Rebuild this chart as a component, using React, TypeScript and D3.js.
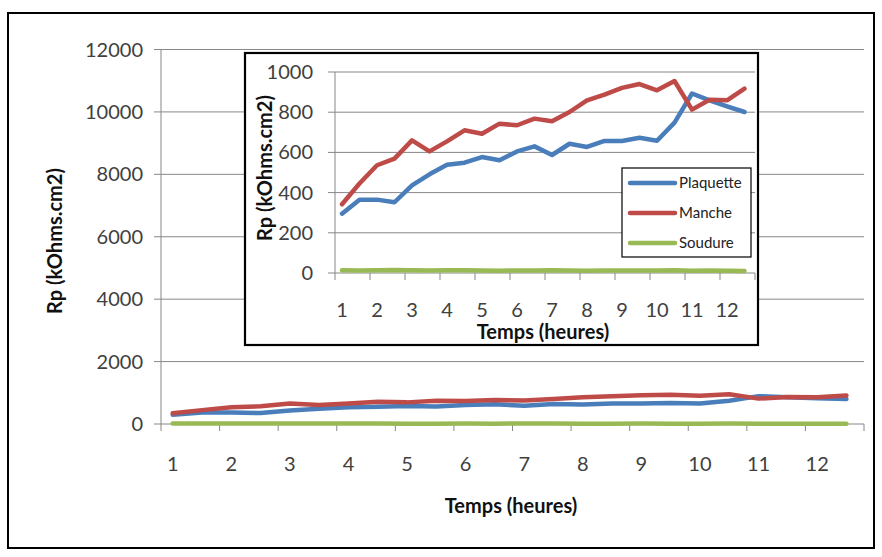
import React from 'react';
import * as d3 from 'd3';

// hours (half-hour sampling)
const hours = [1, 1.5, 2, 2.5, 3, 3.5, 4, 4.5, 5, 5.5, 6, 6.5, 7, 7.5, 8, 8.5, 9, 9.5, 10, 10.5, 11, 11.5, 12, 12.5];
const plaquette = [295, 365, 365, 352, 436, 491, 539, 549, 577, 561, 605, 630, 587, 643, 627, 657, 657, 673, 658, 748, 893, 859, 829, 801];
const manche = [342, 445, 536, 569, 660, 605, 655, 710, 693, 743, 735, 768, 755, 801, 859, 887, 921, 940, 909, 955, 813, 862, 859, 917];
const soudure = [14, 13, 14, 15, 14, 13, 14, 14, 12, 11, 13, 12, 14, 13, 11, 12, 13, 12, 12, 14, 11, 12, 11, 10];

const xLabels = [1, 2, 3, 4, 5, 6, 7, 8, 9, 10, 11, 12];
const mainYTicks = [0, 2000, 4000, 6000, 8000, 10000, 12000];
const insetYTicks = [0, 200, 400, 600, 800, 1000];

const seriesNames = ['Plaquette', 'Manche', 'Soudure'];
const seriesData = [plaquette, manche, soudure];
const colors = ['#4A7EBB', '#BE4B48', '#98B954'];

const FONT = 'Lato, "Open Sans", sans-serif';
const GRID = '#878787';
const LABEL = '#404040';

// x axis domain: ticks fall at 0.8 + k, labels at integer hours
const xDomain: [number, number] = [0.8, 12.8];
const tickVals = d3.range(0, 13).map(k => 0.8 + k);

interface PanelProps {
  left: number; right: number; top: number; bottom: number;
  yMax: number; yTicks: number[];
  yLabelX: number; xLabelY: number;
}

const Panel = ({ left, right, top, bottom, yMax, yTicks, yLabelX, xLabelY }: PanelProps) => {
  const x = d3.scaleLinear().domain(xDomain).range([left, right]);
  const y = d3.scaleLinear().domain([0, yMax]).range([bottom, top]);
  const line = d3.line<number>()
    .x((_, i) => x(hours[i]))
    .y(d => y(d));

  return (
    <g>
      {/* gridlines + y ticks */}
      {yTicks.map(t => (
        <g key={t}>
          <line x1={left - 7} x2={right} y1={y(t)} y2={y(t)} stroke={GRID} strokeWidth={1} />
          <text x={yLabelX} y={y(t)} dy="0.35em" textAnchor="end" fontSize={20} fill={LABEL} fontFamily={FONT}>{t}</text>
        </g>
      ))}
      {/* axes */}
      <line x1={left} x2={left} y1={top} y2={bottom} stroke={GRID} strokeWidth={1} />
      {tickVals.map(t => (
        <line key={t} x1={x(t)} x2={x(t)} y1={bottom} y2={bottom + 7} stroke={GRID} strokeWidth={1} />
      ))}
      {xLabels.map(l => (
        <text key={l} x={x(l)} y={xLabelY} dy="0.35em" textAnchor="middle" fontSize={20} fill={LABEL} fontFamily={FONT}>{l}</text>
      ))}
      {/* series */}
      {seriesData.map((s, i) => (
        <path key={i} d={line(s) || ''} fill="none" stroke={colors[i]} strokeWidth={4.5} strokeLinejoin="round" strokeLinecap="round" />
      ))}
    </g>
  );
};

export default function App() {
  return (
    <svg width={882} height={557} style={{ position: 'absolute', left: 0, top: 0, background: '#fff' }}>
      <rect x={8} y={13} width={866} height={535} fill="#fff" stroke="#000" strokeWidth={2} />

      {/* main chart */}
      <Panel left={161} right={864} top={49.5} bottom={424} yMax={12000} yTicks={mainYTicks} yLabelX={143} xLabelY={464} />
      <text transform="translate(55,241) rotate(-90)" textAnchor="middle" dy="0.35em" fontSize={20} fontWeight="bold" fontFamily={FONT} fill="#111">Rp (kOhms.cm2)</text>
      <text x={511} y={506} textAnchor="middle" dy="0.35em" fontSize={20} fontWeight="bold" fontFamily={FONT} fill="#111">Temps (heures)</text>

      {/* inset chart */}
      <rect x={245} y={53} width={513} height={292} fill="#fff" stroke="#000" strokeWidth={2.2} />
      <Panel left={335} right={755} top={72} bottom={273} yMax={1000} yTicks={insetYTicks} yLabelX={313} xLabelY={310} />
      <text transform="translate(265,168) rotate(-90)" textAnchor="middle" dy="0.35em" fontSize={20} fontWeight="bold" fontFamily={FONT} fill="#111">Rp (kOhms.cm2)</text>
      <text x={543} y={332} textAnchor="middle" dy="0.35em" fontSize={20} fontWeight="bold" fontFamily={FONT} fill="#111">Temps (heures)</text>

      {/* legend */}
      <rect x={622} y={168} width={129} height={89} fill="#fff" stroke="#000" strokeWidth={1.2} />
      {seriesNames.map((n, i) => (
        <g key={n}>
          <line x1={630} x2={675} y1={183 + i * 30} y2={183 + i * 30} stroke={colors[i]} strokeWidth={4.5} strokeLinecap="round" />
          <text x={679} y={183 + i * 30} dy="0.35em" fontSize={15} fill="#222" fontFamily={FONT}>{n}</text>
        </g>
      ))}
    </svg>
  );
}
